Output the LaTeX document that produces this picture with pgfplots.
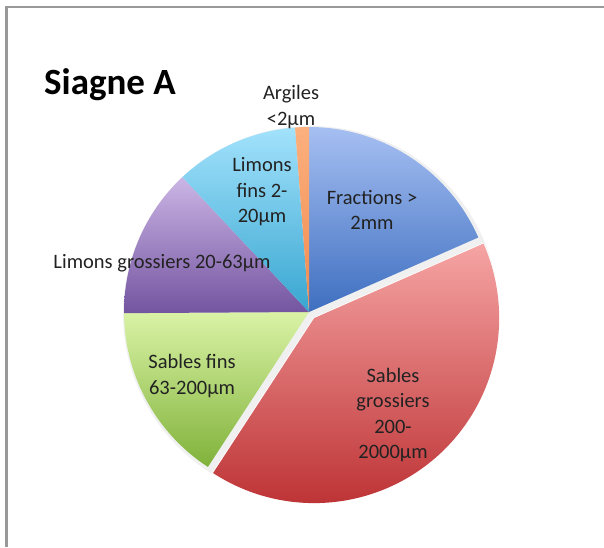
\documentclass[border=0pt]{standalone}
\usepackage{pgfplots}
\pgfplotsset{compat=1.18}
\usepackage{pgfplotstable}
\usepackage{fontspec}
\setmainfont{Carlito}

\definecolor{fracT}{HTML}{A6BFF2}
\definecolor{fracB}{HTML}{3E6FC0}
\definecolor{sgT}{HTML}{F6A4A4}
\definecolor{sgB}{HTML}{BE3436}
\definecolor{sfT}{HTML}{DAF3A6}
\definecolor{sfB}{HTML}{80B23A}
\definecolor{lgT}{HTML}{CBB5E5}
\definecolor{lgB}{HTML}{7354A0}
\definecolor{lfT}{HTML}{A2E2FC}
\definecolor{lfB}{HTML}{38A6D0}
\definecolor{arT}{HTML}{FBB07E}
\definecolor{arB}{HTML}{F08A4E}
\definecolor{txt}{HTML}{222222}

% share of each fraction (percent)
\pgfplotstableread{
slice pct
Fractions 18.4
SablesGrossiers 40.8
SablesFins 15.7
LimonsGrossiers 13.1
LimonsFins 10.8
Argiles 1.2
}\piedata

\begin{document}
\begin{tikzpicture}
\useasboundingbox (0,0) rectangle (604pt,547pt);
\pgfplotstablegetelem{0}{pct}\of\piedata \let\pA\pgfplotsretval
\pgfplotstablegetelem{1}{pct}\of\piedata \let\pB\pgfplotsretval
\pgfplotstablegetelem{2}{pct}\of\piedata \let\pC\pgfplotsretval
\pgfplotstablegetelem{3}{pct}\of\piedata \let\pD\pgfplotsretval
\pgfplotstablegetelem{4}{pct}\of\piedata \let\pE\pgfplotsretval
\pgfplotstablegetelem{5}{pct}\of\piedata \let\pF\pgfplotsretval
\pgfmathsetmacro\aA{90}
\pgfmathsetmacro\aB{\aA-3.6*\pA}
\pgfmathsetmacro\aC{\aB-3.6*\pB}
\pgfmathsetmacro\aD{\aC-3.6*\pC}
\pgfmathsetmacro\aE{\aD-3.6*\pD}
\pgfmathsetmacro\aF{\aE-3.6*\pE}
\pgfmathsetmacro\aG{\aF-3.6*\pF}
\pgfmathsetmacro\cx{309}
\pgfmathsetmacro\cy{235}
\pgfmathsetmacro\R{185}
\pgfmathsetmacro\mid{(\aB+\aC)/2}
\pgfmathsetmacro\ex{\cx+8*cos(\mid)}
\pgfmathsetmacro\ey{\cy+8*sin(\mid)}
\begin{axis}[
  at={(0,0)}, anchor=south west,
  scale only axis, width=604pt, height=547pt,
  xmin=0, xmax=604, ymin=0, ymax=547,
  hide axis, clip=false,
]
% frame
\draw[black!40, line width=2.6pt] (axis cs:6.5,0) -- (axis cs:6.5,540) -- (axis cs:604,540);
% soft shadow
\addplot[draw=none, fill=black, fill opacity=0.06, domain=0:360, samples=120, variable=\t]
  ({\cx+2+(\R+3)*cos(\t)},{\cy-2+(\R+3)*sin(\t)}) -- cycle;
% slices
\addplot[draw=none, top color=fracT, bottom color=fracB, domain=\aB:\aA, samples=80, variable=\t]
  ({\cx+\R*cos(\t)},{\cy+\R*sin(\t)}) -- (axis cs:\cx,\cy) -- cycle;
\addplot[draw=none, top color=sfT, bottom color=sfB, domain=\aD:\aC, samples=80, variable=\t]
  ({\cx+\R*cos(\t)},{\cy+\R*sin(\t)}) -- (axis cs:\cx,\cy) -- cycle;
\addplot[draw=none, top color=lgT, bottom color=lgB, domain=\aE:\aD, samples=80, variable=\t]
  ({\cx+\R*cos(\t)},{\cy+\R*sin(\t)}) -- (axis cs:\cx,\cy) -- cycle;
\addplot[draw=none, top color=lfT, bottom color=lfB, domain=\aF:\aE, samples=80, variable=\t]
  ({\cx+\R*cos(\t)},{\cy+\R*sin(\t)}) -- (axis cs:\cx,\cy) -- cycle;
\addplot[draw=none, top color=arT, bottom color=arB, domain=\aG:\aF, samples=20, variable=\t]
  ({\cx+\R*cos(\t)},{\cy+\R*sin(\t)}) -- (axis cs:\cx,\cy) -- cycle;
% exploded slice
\addplot[draw=white, line width=1.5pt, top color=sgT, bottom color=sgB, domain=\aC:\aB, samples=120, variable=\t]
  ({\ex+\R*cos(\t)},{\ey+\R*sin(\t)}) -- (axis cs:\ex,\ey) -- cycle;
\addplot[draw=none, top color=sgT, bottom color=sgB, domain=\aC:\aB, samples=120, variable=\t]
  ({\ex+\R*cos(\t)},{\ey+\R*sin(\t)}) -- (axis cs:\ex,\ey) -- cycle;
% title and labels
\node[anchor=west, text=black, inner sep=0pt, font=\fontsize{37}{44}\selectfont\bfseries] at (axis cs:44,462) {Siagne A};
\begin{scope}[every node/.style={align=center, text=txt, inner sep=0pt, font=\fontsize{20.5}{25.5}\selectfont}]
\node at (axis cs:291,440) {Argiles\\<2µm};
\node at (axis cs:262,355) {Limons\\fins 2-\\20µm};
\node at (axis cs:372,337) {Fractions >\\2mm};
\node at (axis cs:162,284) {Limons grossiers 20-63µm};
\node at (axis cs:192,171) {Sables fins\\63-200µm};
\node at (axis cs:393,132) {Sables\\grossiers\\200-\\2000µm};
\end{scope}
\end{axis}
\end{tikzpicture}
\end{document}
